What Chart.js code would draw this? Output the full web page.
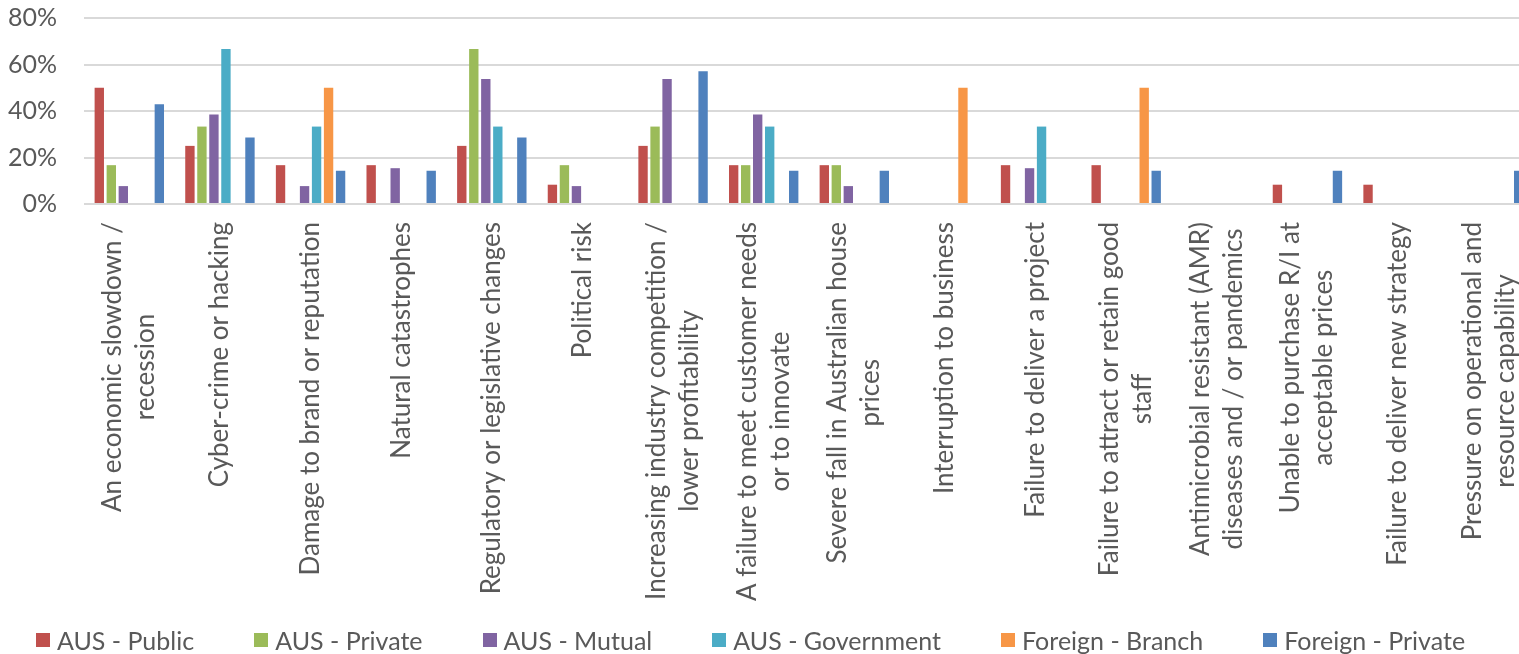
<!DOCTYPE html>
<html>
<head>
<meta charset="utf-8">
<script src="https://cdn.jsdelivr.net/npm/chart.js@4/dist/chart.umd.min.js"></script>
<style>
  html, body { margin: 0; padding: 0; background: #fff; overflow: hidden; }
  #wrap { position: relative; width: 1534px; height: 654px; }
  #legend {
    position: absolute; left: 0; top: 626px; width: 1501px;
    display: flex; justify-content: center; gap: 60px;
    font: 25px Lato; color: #595959; line-height: 28px;
  }
  .item { display: flex; align-items: center; gap: 7px; }
  .box { width: 14px; height: 14px; }
</style>
</head>
<body>
<div id="wrap">
  <canvas id="chart" width="1534" height="654"></canvas>
  <div id="legend"></div>
</div>
<script>
const categories = [
  ["An economic slowdown /", "recession"],
  ["Cyber-crime or hacking"],
  ["Damage to brand or reputation"],
  ["Natural catastrophes"],
  ["Regulatory or legislative changes"],
  ["Political risk"],
  ["Increasing industry competition /", "lower profitability"],
  ["A failure to meet customer needs", "or to innovate"],
  ["Severe fall in Australian house", "prices"],
  ["Interruption to business"],
  ["Failure to deliver a project"],
  ["Failure to attract or retain good", "staff"],
  ["Antimicrobial resistant (AMR)", "diseases and / or pandemics"],
  ["Unable to purchase R/I at", "acceptable prices"],
  ["Failure to deliver new strategy"],
  ["Pressure on operational and", "resource capability"]
];

const seriesNames = ["AUS - Public", "AUS - Private", "AUS - Mutual", "AUS - Government", "Foreign - Branch", "Foreign - Private"];
const seriesColors = ["#C0504D", "#9BBB59", "#8064A2", "#4BACC6", "#F79646", "#4F81BD"];

// percentages per category
const ausPublic      = [50, 25, 16.7, 16.7, 25, 8.3, 25, 16.7, 16.7, 0, 16.7, 16.7, 0, 8.3, 8.3, 0];
const ausPrivate     = [16.7, 33.3, 0, 0, 66.7, 16.7, 33.3, 16.7, 16.7, 0, 0, 0, 0, 0, 0, 0];
const ausMutual      = [7.7, 38.5, 7.7, 15.4, 53.8, 7.7, 53.8, 38.5, 7.7, 0, 15.4, 0, 0, 0, 0, 0];
const ausGovernment  = [0, 66.7, 33.3, 0, 33.3, 0, 0, 33.3, 0, 0, 33.3, 0, 0, 0, 0, 0];
const foreignBranch  = [0, 0, 50, 0, 0, 0, 0, 0, 0, 50, 0, 50, 0, 0, 0, 0];
const foreignPrivate = [42.9, 28.6, 14.3, 14.3, 28.6, 0, 57.1, 14.3, 14.3, 0, 0, 14.3, 0, 14.3, 0, 14.3];

const yTicks = [0, 20, 40, 60, 80];

const seriesData = [ausPublic, ausPrivate, ausMutual, ausGovernment, foreignBranch, foreignPrivate];

const TEXT_COLOR = "#595959";
const FONT = "Lato";
const LINE_GAP = 33;

// x labels: rotated, lines centred on each other, block hangs from the axis
const xLabelsPlugin = {
  id: "xLabels",
  afterDraw(chart) {
    const ctx = chart.ctx;
    const scale = chart.scales.x;
    const top = chart.chartArea.bottom + 18;
    ctx.save();
    ctx.font = "26px " + FONT;
    ctx.fillStyle = TEXT_COLOR;
    ctx.textAlign = "center";
    ctx.textBaseline = "middle";
    categories.forEach((lines, i) => {
      const x = scale.getPixelForTick(i);
      const maxW = Math.max(...lines.map((l) => ctx.measureText(l).width));
      lines.forEach((line, j) => {
        const lx = x + (j - (lines.length - 1) / 2) * LINE_GAP;
        ctx.save();
        ctx.translate(lx, top + maxW / 2);
        ctx.rotate(-Math.PI / 2);
        ctx.fillText(line, 0, 0);
        ctx.restore();
      });
    });
    ctx.restore();
  }
};

const chart = new Chart(document.getElementById("chart"), {
  type: "bar",
  data: {
    labels: categories,
    datasets: seriesNames.map((name, i) => ({
      label: name,
      data: seriesData[i],
      backgroundColor: seriesColors[i],
      barPercentage: 0.78,
      categoryPercentage: 0.795
    }))
  },
  options: {
    responsive: false,
    animation: false,
    devicePixelRatio: 1,
    layout: { padding: { top: 18, left: 0, right: 0, bottom: 0 } },
    plugins: {
      legend: { display: false },
      tooltip: { enabled: false }
    },
    scales: {
      x: {
        grid: { display: false },
        border: { display: false },
        ticks: { display: false },
        afterFit(scale) { scale.height = 450; }
      },
      y: {
        min: 0,
        max: 80,
        afterBuildTicks(scale) { scale.ticks = yTicks.map((v) => ({ value: v })); },
        afterFit(scale) {
          scale.width = 84;
          scale.paddingTop = 0;
          scale.paddingBottom = 0;
        },
        grid: { color: "#d9d9d9", lineWidth: 2, drawTicks: false },
        border: { display: false },
        ticks: {
          padding: 27,
          color: TEXT_COLOR,
          font: { family: FONT, size: 25 },
          callback: (v) => v + "%"
        }
      }
    }
  },
  plugins: [xLabelsPlugin]
});

// legend built from the datasets
const legendEl = document.getElementById("legend");
chart.data.datasets.forEach((ds) => {
  const item = document.createElement("div");
  item.className = "item";
  const box = document.createElement("span");
  box.className = "box";
  box.style.background = ds.backgroundColor;
  const label = document.createElement("span");
  label.textContent = ds.label;
  item.appendChild(box);
  item.appendChild(label);
  legendEl.appendChild(item);
});
</script>
</body>
</html>
